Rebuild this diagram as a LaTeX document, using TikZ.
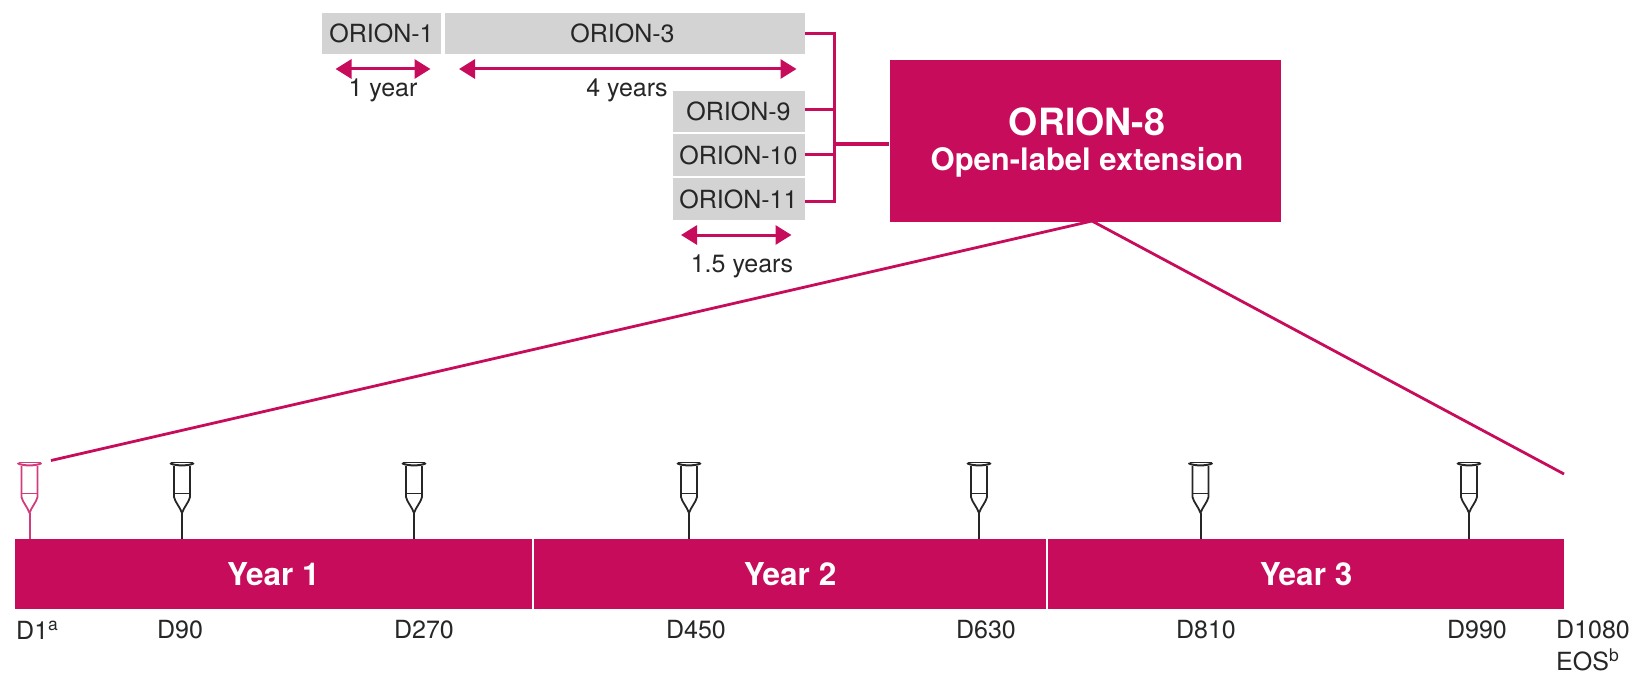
\documentclass[tikz,border=0pt]{standalone}
\usepackage{fontspec}
\setmainfont{TeX Gyre Heros}
\usetikzlibrary{arrows.meta}
\definecolor{mag}{HTML}{C60C5B}
\definecolor{greybox}{HTML}{D3D3D3}
\definecolor{ink}{HTML}{262626}
\tikzset{
  gbox/.style={fill=greybox,inner sep=0pt,text=ink,font=\fontsize{25}{25}\selectfont},
  yearbar/.style={fill=mag,inner sep=0pt,text=white,font=\bfseries\fontsize{31.5}{31.5}\selectfont,minimum height=70pt},
  lbl/.style={inner sep=0pt,text=ink,font=\fontsize{25}{25}\selectfont},
  conn/.style={draw=mag,line width=3pt},
  span/.style={draw=mag,line width=3pt,{Triangle[length=16pt,width=19pt]}-{Triangle[length=16pt,width=19pt]}},
  zoomline/.style={draw=mag,line width=2.8pt},
  pics/crutch/.style={code={
    \draw[line width=2pt,line cap=round,#1] (-11.5,-0.5) .. controls (-6,2) and (6,2) .. (11.5,-0.5);
    \draw[line width=1.2pt,#1] (-11,-1.5) -- (11,-1.5);
    \draw[line width=1.8pt,line join=round,#1] (-8,2) -- (-8,33) .. controls (-7,38) and (-2,43) .. (0,49) .. controls (2,43) and (7,38) .. (8,33) -- (8,2);
    \draw[line width=1.6pt,#1] (-8,29.5) -- (8,29.5);
    \draw[line width=2pt,#1] (0,49) -- (0,75);
  }}
}
\begin{document}
\begin{tikzpicture}[x=1pt,y=-1pt]
\useasboundingbox (0,0) rectangle (1635,674);
\node[gbox,minimum width=118.5pt,minimum height=41.6pt] (o1) at (381.5,33.5) {ORION-1};
\node[gbox,minimum width=360pt,minimum height=41.6pt] (o3) at (625,33.5) {\hspace*{-5pt}ORION-3};
\node[gbox,minimum width=132pt,minimum height=41pt] (o9) at (738.5,111.2) {ORION-9};
\node[gbox,minimum width=132pt,minimum height=42pt] (o10) at (738.5,155) {ORION-10};
\node[gbox,minimum width=132pt,minimum height=42pt] (o11) at (738.5,199.2) {ORION-11};
\node[fill=mag,inner sep=0pt,minimum width=391pt,minimum height=161.5pt] (o8) at (1085,141.2) {};
\node[inner sep=0pt,text=white,font=\bfseries\fontsize{37.5}{37.5}\selectfont] (t8) at (1087,122) {ORION-8};
\node[inner sep=0pt,text=white,font=\bfseries\fontsize{31}{31}\selectfont] (t8b) at (1087,162) {Open-label extension};
% bracket
\coordinate (busT) at (834,34);
\coordinate (busB) at (834,201.7);
\coordinate (busM) at (834,144);
\draw[conn] (o3.east |- busT) -- (busT) -- (busB) -- (o11.east |- busB);
\draw[conn] (o9.east |- 0,110) -- (busT |- 0,110);
\draw[conn] (o10.east |- 0,154.3) -- (busT |- 0,154.3);
\draw[conn] (busM) -- (busM -| o8.west);
% spans
\coordinate (a1) at (335.5,69); \coordinate (a2) at (430.5,69);
\coordinate (b1) at (459,69);   \coordinate (b2) at (796.5,69);
\coordinate (c1) at (681,235);  \coordinate (c2) at (791.5,235);
\draw[span] (a1) -- (a2);
\draw[span] (b1) -- (b2);
\draw[span] (c1) -- (c2);
\node[lbl] (l1) at (383,90.5) {1 year};
\node[lbl] (l4) at (627,90.5) {4 years};
\node[lbl] (l15) at (742,266) {1.5 years};
% timeline
\node[yearbar,minimum width=517pt] (y1) at (273.5,574) {Year 1};
\node[yearbar,minimum width=512pt] (y2) at (790,574) {Year 2};
\node[yearbar,minimum width=516pt] (y3) at (1306,574) {Year 3};
% zoom lines
\coordinate (apex) at (1092,221);
\coordinate (zl) at (51,460.5);
\coordinate (zr) at (1564,474);
\draw[zoomline] (apex) -- (zl);
\draw[zoomline] (apex) -- (zr);
% crutches
\pic at (29.5,464) {crutch={draw=mag!80!white}};
\pic at (182,464) {crutch={draw=ink}};
\pic at (414,464) {crutch={draw=ink}};
\pic at (689,464) {crutch={draw=ink}};
\pic at (979,464) {crutch={draw=ink}};
\pic at (1200.5,464) {crutch={draw=ink}};
\pic at (1469,464) {crutch={draw=ink}};
% day labels
\node[lbl,anchor=west] (d1) at (16,630) {D1\textsuperscript{a}};
\node[lbl] (d90) at (180,630) {D90};
\node[lbl] (d270) at (424,630) {D270};
\node[lbl] (d450) at (696,630) {D450};
\node[lbl] (d630) at (986,630) {D630};
\node[lbl] (d810) at (1206,630) {D810};
\node[lbl] (d990) at (1477,630) {D990};
\node[lbl,anchor=west] (d1080) at (1556,630) {D1080};
\node[lbl,anchor=west] (eos) at (1556,660) {EOS\textsuperscript{b}};
\end{tikzpicture}
\end{document}
